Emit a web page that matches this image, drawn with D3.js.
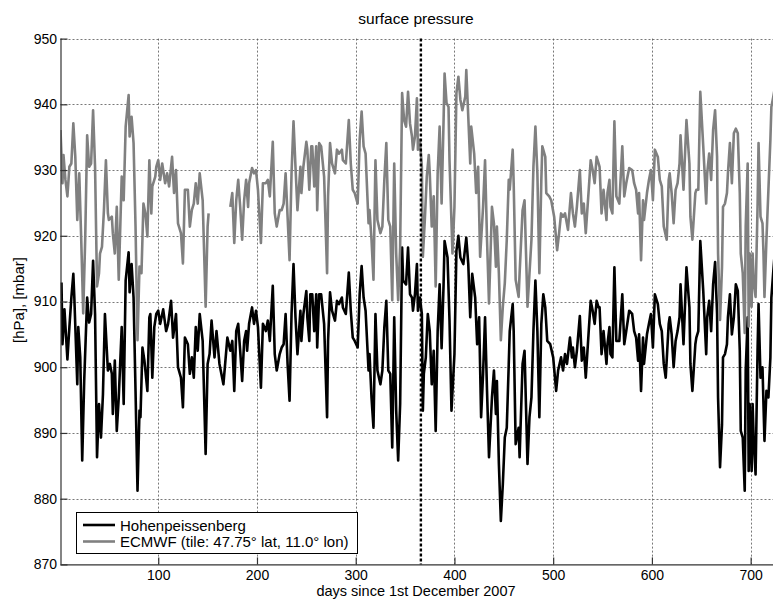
<!DOCTYPE html>
<html>
<head>
<meta charset="utf-8">
<script src="https://cdn.jsdelivr.net/npm/d3@7"></script>
<style>
  html, body { margin: 0; padding: 0; background: #fff; }
  svg { display: block; }
  text { font-family: "Liberation Sans", Arial, Helvetica, sans-serif; fill: #000; }
</style>
</head>
<body>
<svg id="chart" width="773" height="599"></svg>
<script>
// Daily surface pressure, [day, hPa]
const hohenpeissenberg = [[2,912.9],[3,903.5],[5,908.8],[8,901.2],[10,906.1],[12,910.6],[14,914.2],[15,910.6],[18,897.4],[19,906.1],[21,901.5],[23,885.8],[25,897.9],[28,910.6],[30,906.8],[32,908.1],[34,916.2],[36,908.1],[38,886.3],[40,894.4],[42,889.3],[44,895.9],[46,908.1],[49,899.5],[51,900.5],[53,899],[54,892.9],[56,901],[58,890.3],[60,895.4],[63,906.1],[65,894.4],[67,913.2],[70,917.5],[71,911.4],[73,915.7],[75,910.6],[77,896.4],[79,881.2],[81,893.4],[82,892.4],[84,903],[86,901],[89,896.4],[91,907.6],[92,908.1],[94,898.4],[96,906.1],[98,908.1],[100,908.6],[102,906.6],[105,908.8],[108,905.5],[110,906.6],[113,910.1],[115,904.5],[118,908.1],[120,900],[123,898.4],[125,893.9],[127,904.5],[130,903.5],[132,899],[134,901.5],[136,898.4],[138,906.1],[140,902.5],[142,908.1],[145,904],[148,886.8],[150,900.5],[152,902],[154,907.1],[157,901.5],[159,905.5],[162,900.5],[166,897.4],[170,904.5],[173,902.5],[175,904],[177,896.4],[179,905.5],[181,906.6],[183,902.5],[185,897.9],[187,904],[189,905.5],[190,902.5],[192,906.6],[195,909.1],[197,906.6],[199,908.6],[201,906.1],[204,896.9],[206,906.6],[209,905.5],[211,907.1],[213,904],[216,912.4],[218,902],[220,899.5],[223,902],[225,903],[227,903.5],[229,908.1],[231,900.5],[233,894.9],[235,908.1],[237,915.7],[239,907.6],[241,902],[244,908.6],[245,904],[247,908.1],[250,911.6],[251,907.6],[253,904],[254,911.1],[256,911.1],[258,905.5],[260,911.1],[261,903],[263,911.1],[265,911.1],[268,906.6],[271,892.4],[272,904],[274,911.4],[276,908.6],[279,907.1],[281,910.1],[283,909.6],[286,910.6],[287,909.1],[290,908.1],[293,914.4],[295,908.6],[297,904.5],[299,904],[302,903],[304,911.1],[306,915.4],[308,910.6],[310,908.6],[313,899.5],[314,902],[316,895.4],[318,890.8],[320,908.1],[322,899.5],[325,897.4],[327,899.5],[329,906.1],[331,910.1],[333,899.5],[335,899],[337,887.8],[339,907.6],[341,893.4],[343,885.8],[345,894.4],[347,918.2],[348,913.2],[351,912.6],[353,918.2],[355,911.1],[357,910.6],[358,908.6],[360,911.1],[362,915.7],[363,908.6],[365,910.6],[367,908.1],[368,893.4],[369,899],[371,901.5],[373,908.1],[375,905.5],[377,897.4],[379,902.5],[381,890.3],[383,905.5],[385,912.6],[387,902.9],[389,912.6],[390,919.2],[393,916.7],[395,907.1],[397,893.4],[400,902],[402,917.7],[404,920],[406,916.7],[409,915.7],[412,919.7],[414,915.7],[416,907.6],[418,914.2],[421,910.6],[423,903.5],[425,907.6],[427,892.4],[429,899],[431,907.6],[433,896.4],[435,886.3],[438,895.4],[440,899.5],[442,892.9],[443,897.9],[445,885.3],[447,876.6],[449,882.2],[451,889.3],[453,890.8],[455,900.5],[456,905.5],[459,909.6],[460,905.5],[462,888.3],[465,890.8],[466,886.3],[469,900.5],[471,902.5],[474,885.3],[476,892.4],[478,895.4],[480,905.5],[482,913.2],[484,905.5],[486,892.4],[488,906.6],[490,911.1],[492,909.1],[494,904],[497,903.5],[500,901.5],[503,896.4],[505,899.5],[508,901.5],[510,899.5],[512,902],[514,900.5],[517,904.5],[519,901.5],[520,903],[522,900],[524,902.5],[527,907.8],[529,901],[531,903],[533,898.4],[536,905.5],[538,910.1],[540,908.6],[542,906.6],[544,910.1],[546,909.1],[547,909.1],[549,902],[551,905.5],[554,900.5],[555,903.5],[557,906.1],[558,902],[560,901.5],[562,915.2],[564,904],[567,904],[570,911.1],[572,903.5],[574,905.5],[577,908.6],[580,908.1],[582,905.5],[584,904.5],[586,901],[587,905],[589,896.4],[591,904.5],[592,900.5],[595,905],[597,906.6],[599,908.1],[601,903],[603,911.1],[606,909.6],[608,906.6],[610,905.5],[612,900.5],[614,898.4],[617,906.6],[618,907.6],[620,905],[622,900],[624,904],[626,905.5],[628,907.6],[629,912.6],[632,903.5],[635,915.2],[638,909.1],[639,900.5],[641,896.4],[644,903.5],[645,904.5],[647,905.5],[649,919.2],[652,911.6],[655,902],[656,907.6],[658,910.1],[660,905.5],[662,912.6],[664,916],[666,908.1],[667,895.4],[669,884.8],[671,891.3],[672,901.5],[674,902],[676,903.5],[677,907.6],[679,911.1],[681,905],[683,907.6],[685,912.6],[687,911.6],[689,902.5],[690,890.3],[692,889.3],[694,881.2],[695,899.5],[697,907.6],[698,884.2],[699,894.4],[701,884.2],[702,894.4],[703,889.3],[705,883.7],[707,902.5],[708,909.6],[710,898.4],[712,900],[713,894.4],[714,888.8],[716,896.4],[718,895.4],[720,901.5],[721,910.6],[723,914.7],[725,918.5]];

// ECMWF tile values; null marks missing days
const ecmwf = [[1,936.1],[3,928],[4,932.3],[6,928.5],[8,926],[10,930.5],[12,931],[14,937.1],[16,932],[18,922.4],[20,929.5],[22,919.4],[24,908.2],[26,919.4],[28,935.3],[30,930.5],[32,931],[34,939.1],[36,930.5],[38,912.3],[40,914.3],[41,917.3],[43,918.3],[45,923.9],[47,931.5],[49,923.4],[50,922.4],[53,922.9],[54,920.4],[56,917.3],[58,924.4],[60,913.3],[63,929],[65,925.4],[67,936.6],[70,941.4],[71,935.1],[73,938.1],[75,934.1],[77,921.4],[79,904.1],[81,915.3],[83,914.3],[85,924.9],[87,923.4],[89,919.9],[91,931.5],[93,923.4],[94,927.5],[97,929],[98,930.5],[100,931.5],[102,928.5],[104,931],[107,928],[109,929.5],[111,927.5],[114,932],[116,926.5],[118,930],[120,921.9],[123,920.4],[125,915.8],[127,927],[130,927],[132,921.4],[134,923.9],[136,924.9],[138,928],[140,924.9],[142,929.5],[145,925.4],[148,909.2],[150,921.4],[151,923.4],[160,null],[173,924.4],[175,926.5],[177,918.9],[179,925.4],[181,928.5],[183,924.4],[185,919.4],[187,925.4],[189,928.5],[191,924.4],[192,928],[195,930.3],[197,929.5],[199,930],[201,927],[204,918.9],[206,928],[209,928],[211,928.5],[213,926],[216,934.3],[218,923.4],[220,921.4],[223,923.9],[225,923.9],[227,924.9],[229,929.5],[231,922.9],[233,916.3],[235,929.5],[237,937.4],[239,930.5],[241,923.9],[244,930.5],[245,926.5],[247,930.5],[250,934.3],[251,933.1],[253,927],[255,933.6],[256,933.6],[258,927.5],[260,933.6],[261,923.9],[263,934.1],[265,933.6],[268,929],[271,914.3],[272,926],[274,934.1],[276,931],[279,929.5],[281,933.1],[283,932.5],[286,933.1],[287,931.5],[290,931],[293,937.6],[295,931],[297,927],[299,926.5],[302,924.9],[304,934.6],[306,938.9],[308,933.6],[310,932.5],[313,921.9],[314,923.9],[316,919.4],[318,913.3],[320,931.5],[322,922.4],[325,920.4],[327,921.4],[329,928.5],[331,934.1],[333,922.4],[335,921.4],[337,910.2],[339,931],[341,917.3],[343,910.2],[345,918.3],[347,941.7],[349,937.6],[351,936.6],[353,941.9],[355,937.1],[357,935.1],[358,933.1],[360,935.1],[362,940.9],[363,933.1],[365,934.6],[367,930.5],[368,916.8],[370,922.4],[372,929],[374,932.3],[375,929.5],[377,921.4],[379,926],[381,912.3],[383,929.5],[385,936.6],[387,924.9],[389,937.6],[390,944.7],[392,940.2],[394,939.6],[395,931.5],[398,917.3],[400,924.4],[402,941.7],[404,944.2],[406,940.7],[408,939.1],[411,941.2],[412,945.2],[414,938.1],[416,931],[417,936.6],[420,932.5],[422,926.5],[424,930.5],[426,916.8],[429,924.4],[431,931.5],[433,919.4],[435,909.7],[438,924.4],[440,921.9],[442,915.3],[443,921.4],[445,914.3],[447,904.1],[449,909.2],[451,912.8],[453,919.4],[455,928.5],[456,927],[459,933.1],[460,928],[462,913.3],[465,910.7],[466,914.3],[469,923.9],[471,925.4],[474,909.2],[476,914.3],[478,919.4],[480,930.5],[482,936.6],[484,929.5],[486,914.3],[488,928.5],[489,933.6],[492,932],[493,926.5],[496,926],[498,925.4],[501,922.9],[504,917.8],[506,920.4],[508,923.4],[510,922.9],[512,923.4],[515,920.9],[518,926.5],[520,923.4],[522,921.4],[524,924.4],[527,930],[529,923.4],[531,924.9],[533,920.4],[536,927],[538,931.5],[540,930],[542,928],[544,932],[546,931],[547,930.5],[549,923.4],[551,927],[554,922.4],[555,926.5],[557,928.5],[558,924.4],[560,923.4],[562,937.4],[564,926],[567,924.9],[570,933.6],[572,926],[574,928],[577,930.3],[580,930],[582,928],[584,927],[586,923.4],[587,926.5],[589,916.3],[591,925.4],[592,922.4],[595,926.5],[597,928.5],[599,930],[601,925.4],[603,933.1],[606,932],[608,928.5],[610,927.5],[612,921.4],[615,919.4],[617,928.5],[618,929.5],[620,926.5],[622,921.9],[624,927],[626,928],[628,931],[629,935.3],[632,927],[635,937.6],[638,931],[639,922.9],[641,919.4],[644,926.5],[645,927],[647,927],[649,941.9],[652,933.6],[655,924.9],[656,929.5],[658,932.5],[660,928.5],[662,936.1],[664,939.1],[666,932],[667,917.3],[669,907.2],[671,915.3],[672,924.4],[674,924.9],[676,926.5],[677,929.5],[679,934.1],[681,928],[683,935.6],[685,936.3],[687,935.6],[689,926.5],[690,917.3],[692,914.3],[694,905.2],[695,921.4],[697,931],[698,906.2],[699,917.3],[701,909.2],[702,917.3],[703,913.3],[705,910.7],[707,924.4],[708,934.1],[710,922.9],[712,921.9],[713,917.3],[714,910.7],[716,919.4],[718,927],[720,934.6],[721,939.6],[723,941.2],[725,943]];

const xTicks = [100, 200, 300, 400, 500, 600, 700];
const yTicks = [870, 880, 890, 900, 910, 920, 930, 940, 950];
const yearBoundary = 366;   // 1st December 2008
const legendLabels = ["Hohenpeissenberg", "ECMWF (tile: 47.75\u00b0 lat, 11.0\u00b0 lon)"];
const seriesColors = ["#000000", "#808080"];

const svg = d3.select("#chart");
const plotLeft = 60.5, plotTop = 38.6, plotBottom = 564.4;

const x = d3.scaleLinear().domain([1, 731]).range([plotLeft, plotLeft + 730 * 0.98733]);
const y = d3.scaleLinear().domain([870, 950]).range([plotBottom, plotTop]);
const plotRight = x.range()[1];

svg.append("defs").append("clipPath").attr("id", "plot")
  .append("rect").attr("x", plotLeft).attr("y", plotTop)
  .attr("width", plotRight - plotLeft).attr("height", plotBottom - plotTop);

// grid
const grid = svg.append("g").attr("stroke", "#555").attr("stroke-width", 0.8).attr("stroke-dasharray", "2,2");
grid.selectAll("line.h").data(yTicks.filter(v => v > 870)).join("line")
  .attr("x1", plotLeft).attr("x2", plotRight)
  .attr("y1", d => Math.round(y(d)) + 0.5).attr("y2", d => Math.round(y(d)) + 0.5);
grid.selectAll("line.v").data(xTicks).join("line")
  .attr("y1", plotTop).attr("y2", plotBottom)
  .attr("x1", d => Math.round(x(d)) + 0.5).attr("x2", d => Math.round(x(d)) + 0.5);

// series
const line = d3.line().defined(d => d[1] != null).x(d => x(d[0])).y(d => y(d[1]));
const plot = svg.append("g").attr("clip-path", "url(#plot)");
[hohenpeissenberg, ecmwf].forEach((s, i) => {
  plot.append("path").datum(s).attr("d", line)
    .attr("fill", "none").attr("stroke", seriesColors[i])
    .attr("stroke-width", 2.6).attr("stroke-linejoin", "round");
});

// year boundary
svg.append("line")
  .attr("x1", x(yearBoundary)).attr("x2", x(yearBoundary))
  .attr("y1", plotTop).attr("y2", plotBottom)
  .attr("stroke", "#000").attr("stroke-width", 2.4).attr("stroke-dasharray", "3,2");

// axes
const yAxis = d3.axisLeft(y).tickValues(yTicks).tickSize(-7).tickPadding(3.5).tickFormat(d3.format("d"));
const xAxis = d3.axisBottom(x).tickValues(xTicks).tickSize(-7).tickPadding(5.5).tickFormat(d3.format("d"));

const gy = svg.append("g").attr("transform", `translate(${plotLeft},0)`).call(yAxis);
const gx = svg.append("g").attr("transform", `translate(0,${plotBottom})`).call(xAxis);
[gy, gx].forEach(g => {
  g.select(".domain").attr("stroke", "#333").attr("stroke-width", 1.2);
  g.selectAll(".tick line").attr("stroke", "#333").attr("stroke-width", 1.2);
  g.selectAll(".tick text").attr("font-size", 14).attr("fill", "#000")
    .style("font-family", '"Liberation Sans", Arial, sans-serif');
});
gx.select(".domain").attr("d", `M${plotLeft},0.5H${plotRight}`);
gy.select(".domain").attr("d", `M0.5,${plotTop}V${plotBottom}`);

// legend
const lg = svg.append("g");
lg.append("rect").attr("x", 76.5).attr("y", 512.5).attr("width", 281).attr("height", 41)
  .attr("fill", "#fff").attr("stroke", "#000").attr("stroke-width", 1);
legendLabels.forEach((t, i) => {
  const ly = 525 + i * 16.5;
  lg.append("line").attr("x1", 83).attr("x2", 115).attr("y1", ly).attr("y2", ly)
    .attr("stroke", seriesColors[i]).attr("stroke-width", 2.6);
  lg.append("text").attr("x", 120).attr("y", ly + 5.5).attr("font-size", 15).text(t);
});

// titles
svg.append("text").attr("x", 416).attr("y", 24).attr("text-anchor", "middle")
  .attr("font-size", 15.5).text("surface pressure");
svg.append("text").attr("x", 416).attr("y", 596).attr("text-anchor", "middle")
  .attr("font-size", 14.5).text("days since 1st December 2007");
svg.append("text").attr("transform", "translate(24,300) rotate(-90)").attr("text-anchor", "middle")
  .attr("font-size", 15).text("[hPa], [mbar]");
</script>
</body>
</html>
